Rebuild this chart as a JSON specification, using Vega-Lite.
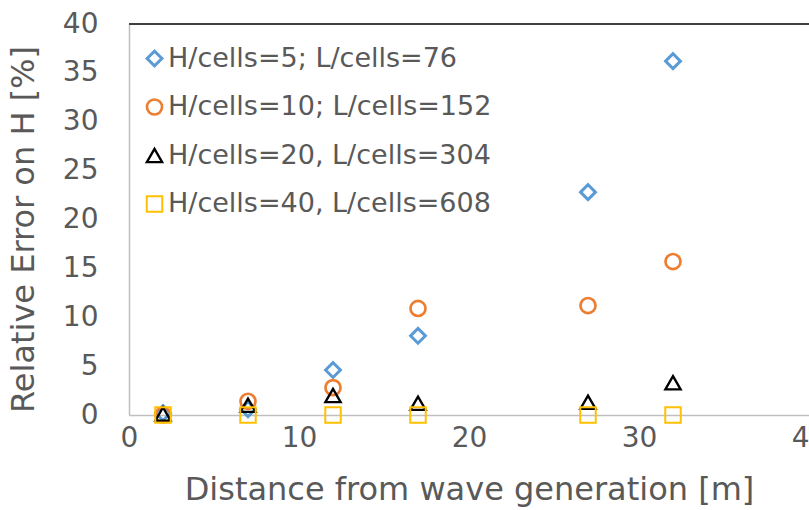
{
  "$schema": "https://vega.github.io/schema/vega-lite/v6.json",
  "width": 680,
  "height": 391,
  "autosize": {"type": "none"},
  "padding": {"left": 129, "top": 24, "right": 0, "bottom": 95},
  "background": "white",
  "config": {
    "view": {"stroke": null},
    "font": "DejaVu Sans",
    "axis": {
      "grid": false,
      "ticks": false,
      "tickSize": 0,
      "labelFlush": false,
      "domainColor": "#bfbfbf",
      "domainWidth": 1.5,
      "labelColor": "#595959",
      "labelFontSize": 28,
      "titleColor": "#595959",
      "titleFontSize": 32,
      "titleFontWeight": "normal"
    },
    "legend": {
      "labelColor": "#595959",
      "labelFontSize": 27,
      "labelFont": "DejaVu Sans",
      "labelLimit": 0
    }
  },
  "data": {
    "values": [
      {"series": "H/cells=5; L/cells=76", "distance": 2, "error": 0.2},
      {"series": "H/cells=5; L/cells=76", "distance": 7, "error": 0.6},
      {"series": "H/cells=5; L/cells=76", "distance": 12, "error": 4.6},
      {"series": "H/cells=5; L/cells=76", "distance": 17, "error": 8.1},
      {"series": "H/cells=5; L/cells=76", "distance": 27, "error": 22.8},
      {"series": "H/cells=5; L/cells=76", "distance": 32, "error": 36.2},
      {"series": "H/cells=10; L/cells=152", "distance": 2, "error": 0.0},
      {"series": "H/cells=10; L/cells=152", "distance": 7, "error": 1.4},
      {"series": "H/cells=10; L/cells=152", "distance": 12, "error": 2.8},
      {"series": "H/cells=10; L/cells=152", "distance": 17, "error": 10.9},
      {"series": "H/cells=10; L/cells=152", "distance": 27, "error": 11.2},
      {"series": "H/cells=10; L/cells=152", "distance": 32, "error": 15.7},
      {"series": "H/cells=20, L/cells=304", "distance": 2, "error": 0.1},
      {"series": "H/cells=20, L/cells=304", "distance": 7, "error": 1.0},
      {"series": "H/cells=20, L/cells=304", "distance": 12, "error": 2.0},
      {"series": "H/cells=20, L/cells=304", "distance": 17, "error": 1.2},
      {"series": "H/cells=20, L/cells=304", "distance": 27, "error": 1.3},
      {"series": "H/cells=20, L/cells=304", "distance": 32, "error": 3.3},
      {"series": "H/cells=40, L/cells=608", "distance": 2, "error": 0},
      {"series": "H/cells=40, L/cells=608", "distance": 7, "error": 0},
      {"series": "H/cells=40, L/cells=608", "distance": 12, "error": 0},
      {"series": "H/cells=40, L/cells=608", "distance": 17, "error": 0},
      {"series": "H/cells=40, L/cells=608", "distance": 27, "error": 0},
      {"series": "H/cells=40, L/cells=608", "distance": 32, "error": 0}
    ]
  },
  "layer": [
    {
      "mark": {"type": "rule", "color": "#404040", "strokeWidth": 1.5},
      "encoding": {"y": {"datum": 40, "type": "quantitative"}}
    },
    {
      "mark": {"type": "point", "filled": false, "opacity": 1},
      "encoding": {
        "x": {
          "field": "distance",
          "type": "quantitative",
          "scale": {"domain": [0, 40], "nice": false},
          "axis": {"values": [0, 10, 20, 30, 40], "labelPadding": 9, "titlePadding": 22},
          "title": "Distance from wave generation [m]"
        },
        "y": {
          "field": "error",
          "type": "quantitative",
          "scale": {"domain": [0, 40], "nice": false},
          "axis": {"values": [0, 5, 10, 15, 20, 25, 30, 35, 40], "labelPadding": 31, "titlePadding": 22, "titleY": 205},
          "title": "Relative Error on H [%]"
        },
        "color": {
          "field": "series",
          "type": "nominal",
          "title": null,
          "scale": {
            "domain": ["H/cells=5; L/cells=76", "H/cells=10; L/cells=152", "H/cells=20, L/cells=304", "H/cells=40, L/cells=608"],
            "range": ["#5b9bd5", "#ed7d31", "#000000", "#ffc000"]
          },
          "legend": {
            "orient": "none",
            "legendX": 12,
            "legendY": 21,
            "rowPadding": 20.5,
            "labelOffset": 0,
            "symbolOpacity": 1
          }
        },
        "shape": {
          "field": "series",
          "type": "nominal",
          "title": null,
          "scale": {
            "domain": ["H/cells=5; L/cells=76", "H/cells=10; L/cells=152", "H/cells=20, L/cells=304", "H/cells=40, L/cells=608"],
            "range": ["diamond", "circle", "triangle-up", "square"]
          }
        },
        "size": {
          "field": "series",
          "type": "nominal",
          "title": null,
          "scale": {
            "domain": ["H/cells=5; L/cells=76", "H/cells=10; L/cells=152", "H/cells=20, L/cells=304", "H/cells=40, L/cells=608"],
            "range": [220, 240, 80, 160]
          }
        },
        "strokeWidth": {
          "field": "series",
          "type": "nominal",
          "title": null,
          "scale": {
            "domain": ["H/cells=5; L/cells=76", "H/cells=10; L/cells=152", "H/cells=20, L/cells=304", "H/cells=40, L/cells=608"],
            "range": [3, 2, 2.5, 2]
          }
        }
      }
    }
  ]
}
